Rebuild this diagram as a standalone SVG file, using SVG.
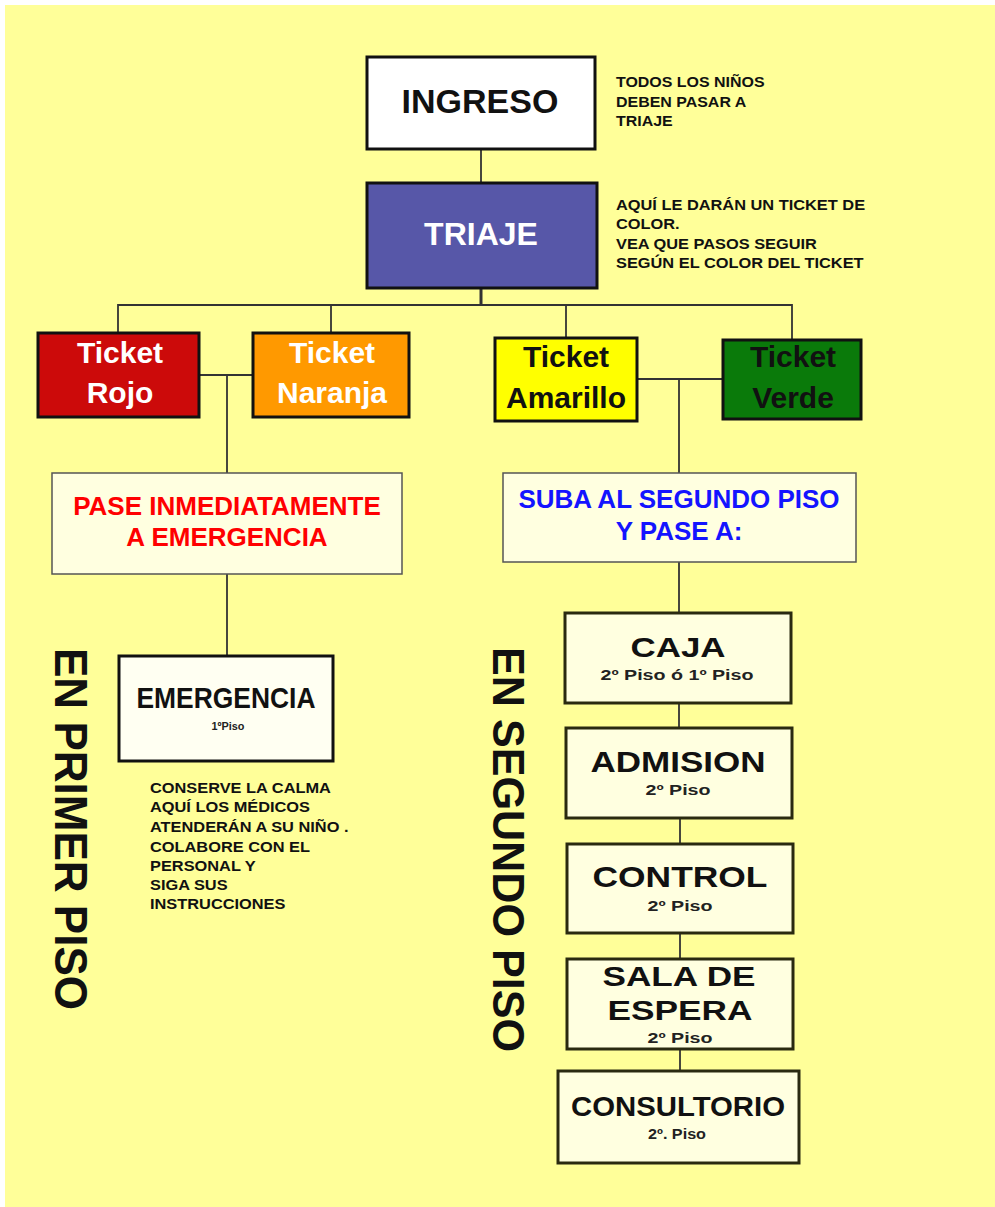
<svg xmlns="http://www.w3.org/2000/svg" width="995" height="1207" viewBox="0 0 995 1207">
<style>
text{font-family:"Liberation Sans",Arial,sans-serif;font-weight:bold}
.c{text-anchor:middle}
.bx{stroke:#111;stroke-width:3}
.thin{stroke:#555;stroke-width:1.5;fill:#FFFFE0}
.st{fill:#FFFFE0;stroke:#2a2a10;stroke-width:3}
.ln{stroke:#333;stroke-width:1.8;fill:none}
.note{font-size:14px;fill:#111}
.sub{font-size:14px;fill:#222}
.tk{font-size:30px}
</style>
<rect x="5" y="5" width="990" height="1202" fill="#FFFF99"/>
<g id="connectors">
<line class="ln" x1="481" y1="149" x2="481" y2="183"/>
<line class="ln" x1="481" y1="288" x2="481" y2="305" style="stroke-width:3"/>
<polyline class="ln" points="118,332 118,305 792,305 792,340"/>
<line class="ln" x1="331" y1="305" x2="331" y2="333"/>
<line class="ln" x1="566" y1="305" x2="566" y2="338"/>
<line class="ln" x1="199" y1="375" x2="253" y2="375"/>
<line class="ln" x1="227" y1="375" x2="227" y2="473"/>
<line class="ln" x1="227" y1="574" x2="227" y2="656"/>
<line class="ln" x1="637" y1="379" x2="723" y2="379"/>
<line class="ln" x1="679" y1="379" x2="679" y2="473"/>
<line class="ln" x1="679" y1="562" x2="679" y2="613"/>
<line class="ln" x1="679" y1="703" x2="679" y2="728"/>
<line class="ln" x1="680" y1="818" x2="680" y2="844"/>
<line class="ln" x1="680" y1="933" x2="680" y2="959"/>
<line class="ln" x1="680" y1="1049" x2="680" y2="1071"/>
</g>
<g id="ingreso">
<rect class="bx" x="367" y="57" width="228" height="92" fill="#FFFFFF"/>
<text class="c" x="480" y="113" font-size="34" fill="#111">INGRESO</text>
</g>
<g id="note-ingreso" transform="translate(616 0) scale(1.14 1)">
<text class="note" x="0" y="87" font-size="15">TODOS LOS NIÑOS</text>
<text class="note" x="0" y="107" font-size="15">DEBEN PASAR A</text>
<text class="note" x="0" y="126.5" font-size="15">TRIAJE</text>
</g>
<g id="triaje">
<rect class="bx" x="367" y="183" width="230" height="105" fill="#5757A8"/>
<text class="c" x="481" y="245" font-size="32" fill="#FFFFFF">TRIAJE</text>
</g>
<g id="note-triaje" transform="translate(616 0) scale(1.17 1)">
<text class="note" x="0" y="210" font-size="13.5">AQUÍ LE DARÁN UN TICKET DE</text>
<text class="note" x="0" y="229" font-size="13.5">COLOR.</text>
<text class="note" x="0" y="249" font-size="13.5">VEA QUE PASOS SEGUIR</text>
<text class="note" x="0" y="268" font-size="13.5">SEGÚN EL COLOR DEL TICKET</text>
</g>
<g id="ticket-rojo">
<rect class="bx" x="38" y="333" width="161" height="84" fill="#CC0A0A"/>
<text class="c tk" x="120" y="363" fill="#FFFFFF">Ticket</text>
<text class="c tk" x="120" y="403" fill="#FFFFFF">Rojo</text>
</g>
<g id="ticket-naranja">
<rect class="bx" x="253" y="333" width="156" height="84" fill="#FF9900"/>
<text class="c tk" x="332" y="363" fill="#FFFFFF">Ticket</text>
<text class="c tk" x="332" y="403" fill="#FFFFFF">Naranja</text>
</g>
<g id="ticket-amarillo">
<rect class="bx" x="495" y="338" width="142" height="83" fill="#FFFF00"/>
<text class="c tk" x="566" y="367" fill="#111">Ticket</text>
<text class="c tk" x="566" y="408" fill="#111">Amarillo</text>
</g>
<g id="ticket-verde">
<rect class="bx" x="723" y="340" width="138" height="79" fill="#0A7A0A"/>
<text class="c tk" x="793" y="367" fill="#111">Ticket</text>
<text class="c tk" x="793" y="408" fill="#111">Verde</text>
</g>
<g id="pase">
<rect class="thin" x="52" y="473" width="350" height="101"/>
<text class="c" x="227" y="515" font-size="26" fill="#FF0000">PASE INMEDIATAMENTE</text>
<text class="c" x="227" y="546" font-size="26" fill="#FF0000">A EMERGENCIA</text>
</g>
<g id="emergencia">
<rect class="bx" x="119" y="656" width="214" height="105" fill="#FFFFF2"/>
<text class="c" x="226" y="708" font-size="30" fill="#111" textLength="179" lengthAdjust="spacingAndGlyphs">EMERGENCIA</text>
<text class="c" x="228" y="730" font-size="11" fill="#222" font-weight="normal" textLength="33" lengthAdjust="spacingAndGlyphs">1ºPiso</text>
</g>
<g id="note-emergencia" transform="translate(150 0) scale(1.17 1)">
<text class="note" x="0" y="793">CONSERVE LA CALMA</text>
<text class="note" x="0" y="812">AQUÍ LOS MÉDICOS</text>
<text class="note" x="0" y="832">ATENDERÁN A SU NIÑO .</text>
<text class="note" x="0" y="852">COLABORE CON EL</text>
<text class="note" x="0" y="871">PERSONAL Y</text>
<text class="note" x="0" y="890">SIGA SUS</text>
<text class="note" x="0" y="909">INSTRUCCIONES</text>
</g>
<g id="label-primer-piso">
<text transform="translate(55 648) rotate(90)" font-size="47" fill="#111" textLength="362" lengthAdjust="spacingAndGlyphs">EN PRIMER PISO</text>
</g>
<g id="suba">
<rect class="thin" x="503" y="473" width="353" height="89"/>
<text class="c" x="679" y="508" font-size="26" fill="#1414FF">SUBA AL SEGUNDO PISO</text>
<text class="c" x="679" y="540" font-size="26" fill="#1414FF">Y PASE A:</text>
</g>
<g id="label-segundo-piso">
<text transform="translate(493 647) rotate(90)" font-size="44" fill="#111" textLength="405" lengthAdjust="spacingAndGlyphs">EN SEGUNDO PISO</text>
</g>
<g id="caja">
<rect class="st" x="565" y="613" width="226" height="90"/>
<text class="c" x="678" y="657" font-size="28" fill="#111" textLength="95" lengthAdjust="spacingAndGlyphs">CAJA</text>
<text class="c sub" x="677" y="680" textLength="153" lengthAdjust="spacingAndGlyphs">2º Piso ó 1º Piso</text>
</g>
<g id="admision">
<rect class="st" x="566" y="728" width="226" height="90"/>
<text class="c" x="678" y="772" font-size="30" fill="#111" textLength="175" lengthAdjust="spacingAndGlyphs">ADMISION</text>
<text class="c sub" x="678" y="795" textLength="65" lengthAdjust="spacingAndGlyphs">2º Piso</text>
</g>
<g id="control">
<rect class="st" x="567" y="844" width="226" height="89"/>
<text class="c" x="680" y="887" font-size="30" fill="#111" textLength="175" lengthAdjust="spacingAndGlyphs">CONTROL</text>
<text class="c sub" x="680" y="911" textLength="65" lengthAdjust="spacingAndGlyphs">2º Piso</text>
</g>
<g id="sala-espera">
<rect class="st" x="567" y="959" width="226" height="90"/>
<text class="c" x="679" y="986" font-size="27" fill="#111" textLength="153" lengthAdjust="spacingAndGlyphs">SALA DE</text>
<text class="c" x="680" y="1020" font-size="27" fill="#111" textLength="145" lengthAdjust="spacingAndGlyphs">ESPERA</text>
<text class="c sub" x="680" y="1043" textLength="65" lengthAdjust="spacingAndGlyphs">2º Piso</text>
</g>
<g id="consultorio">
<rect class="st" x="558" y="1071" width="241" height="92"/>
<text class="c" x="678" y="1116" font-size="28" fill="#111" textLength="214" lengthAdjust="spacingAndGlyphs">CONSULTORIO</text>
<text class="c sub" x="677" y="1139" textLength="58" lengthAdjust="spacingAndGlyphs">2º. Piso</text>
</g>
</svg>
